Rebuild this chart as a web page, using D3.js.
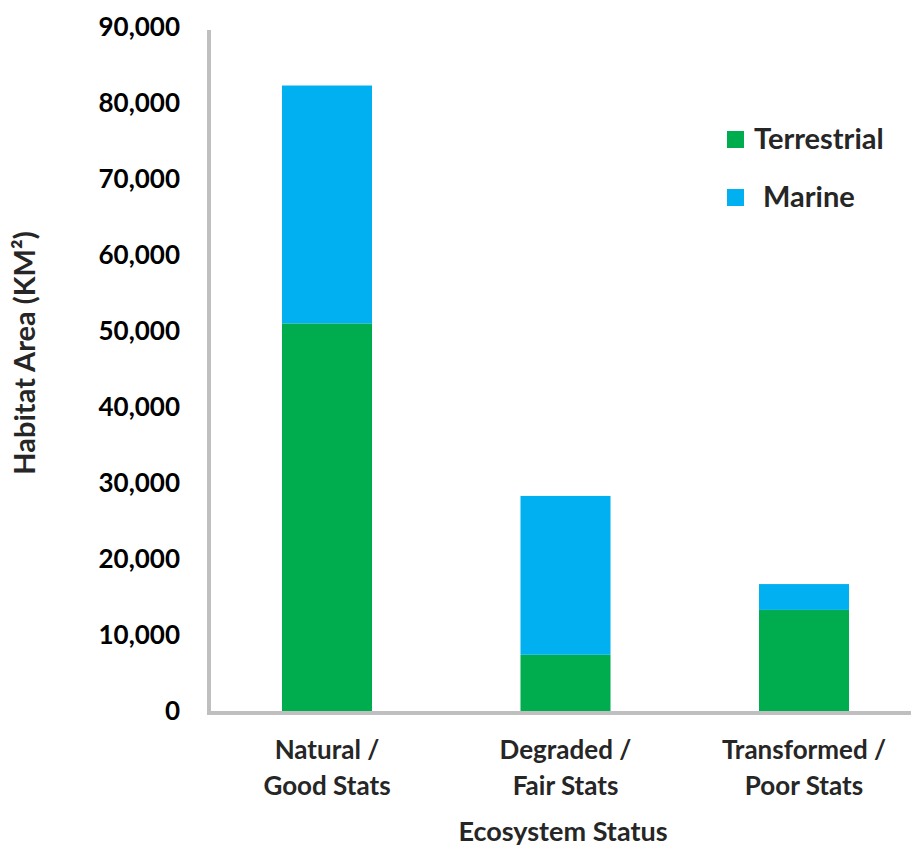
<!DOCTYPE html>
<html><head><meta charset="utf-8">
<script src="https://cdn.jsdelivr.net/npm/d3@7"></script>
<style>body{margin:0;background:#fff}text{font-family:Lato,"Open Sans",sans-serif}</style>
</head><body><svg id="c" width="911" height="850"></svg>
<script>
const categories = [["Natural /","Good Stats"],["Degraded /","Fair Stats"],["Transformed /","Poor Stats"]];
const categoryKeys = ["Natural","Degraded","Transformed"];
const terrestrial = [51000, 7400, 13300];
const marine = [31300, 20900, 3400];
const seriesNames = ["Terrestrial","Marine"];
const yTicks = [0,10000,20000,30000,40000,50000,60000,70000,80000,90000];

const colors = {Terrestrial:"#00ad4e", Marine:"#00b0f0"};
const svg = d3.select("#c");
const y = d3.scaleLinear().domain([0,90000]).range([711,27]);
const x = d3.scaleBand().domain(categoryKeys).range([209,922]).paddingInner(0.6226).paddingOuter(0.306);

const rows = categoryKeys.map((k,i)=>({key:k, Terrestrial:terrestrial[i], Marine:marine[i]}));
const stack = d3.stack().keys(seriesNames)(rows);

svg.append("g").selectAll("g").data(stack).join("g").attr("fill",d=>colors[d.key])
  .selectAll("rect").data(d=>d).join("rect")
  .attr("x",d=>x(d.data.key)).attr("width",x.bandwidth())
  .attr("y",d=>y(d[1])).attr("height",d=>y(d[0])-y(d[1]));

// axes lines
svg.append("line").attr("x1",209).attr("x2",209).attr("y1",30).attr("y2",715).attr("stroke","#bfbfbf").attr("stroke-width",4);
svg.append("line").attr("x1",207).attr("x2",911).attr("y1",713).attr("y2",713).attr("stroke","#bfbfbf").attr("stroke-width",4);

// y tick labels
const fmt = d3.format(",");
svg.append("g").selectAll("text").data(yTicks).join("text")
  .attr("x",180).attr("y",d=>y(d)).attr("dy","0.35em").attr("text-anchor","end")
  .attr("font-size",26).attr("font-weight","bold").attr("fill","#000").text(d=>fmt(d));

// category labels
const cg = svg.append("g").selectAll("text").data(categoryKeys).join("text")
  .attr("text-anchor","middle").attr("font-size",26).attr("font-weight","bold").attr("fill","#262626")
  .attr("transform",d=>`translate(${x(d)+x.bandwidth()/2},0)`);
cg.each(function(d,i){
  const t=d3.select(this);
  t.append("tspan").attr("x",0).attr("y",759).text(categories[i][0]);
  t.append("tspan").attr("x",0).attr("y",795).text(categories[i][1]);
});

// axis titles
svg.append("text").attr("x",563).attr("y",841).attr("text-anchor","middle").attr("font-size",27).attr("font-weight","bold").attr("fill","#262626").text("Ecosystem Status");
svg.append("text").attr("transform","translate(35,353) rotate(-90)").attr("text-anchor","middle").attr("font-size",29).attr("font-weight","bold").attr("fill","#262626")
  .text("Habitat Area (KM²)");

// legend
const leg = svg.append("g");
const legY = [139, 197];
const legTX = [754, 763];
seriesNames.forEach((s,i)=>{
  leg.append("rect").attr("x",727).attr("y",legY[i]-8).attr("width",17).attr("height",17).attr("fill",colors[s]);
  leg.append("text").attr("x",legTX[i]).attr("y",legY[i]).attr("dy","0.35em").attr("font-size",29).attr("font-weight","bold").attr("fill","#262626").text(s);
});
</script></body></html>
